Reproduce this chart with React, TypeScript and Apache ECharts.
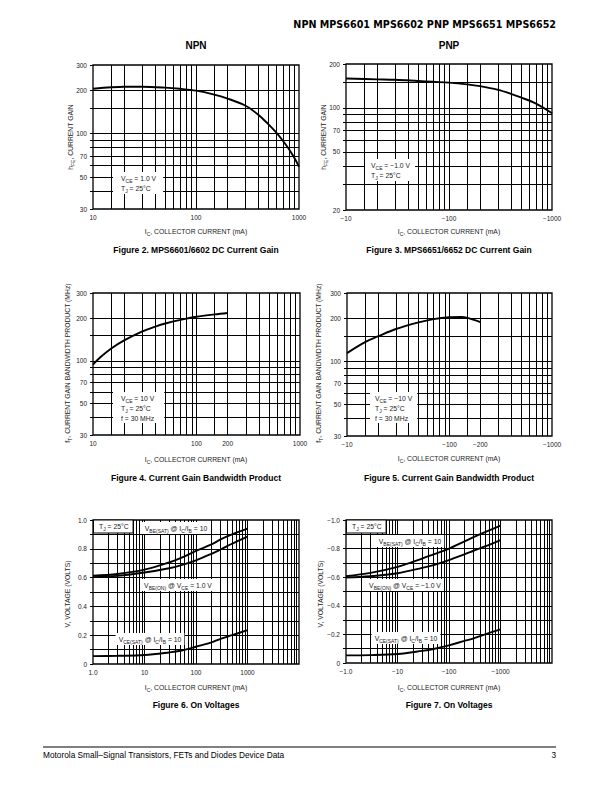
import React, { useEffect, useRef } from 'react';
import * as echarts from 'echarts';

const FONT = '"Liberation Sans", Arial, Helvetica, sans-serif';

// ---------- data ----------
// Figure 2: NPN DC current gain (VCE = 1.0 V)
const npnGainIc = [10, 15, 20, 30, 50, 70, 100, 150, 200, 300, 400, 500, 600, 700, 800, 900, 1000];
const npnGainHfe = [205, 210, 212, 212, 209, 205, 199, 187, 176, 157, 136, 117, 102, 89, 78, 68, 59];
// Figure 3: PNP DC current gain (VCE = -1.0 V), |IC|
const pnpGainIc = [10, 20, 30, 50, 70, 100, 150, 200, 300, 400, 500, 700, 1000];
const pnpGainHfe = [159, 157, 156, 153, 151, 149, 145, 141, 133, 125, 118, 107, 92];
// Figure 4: NPN fT
const npnFtIc = [10, 12, 15, 20, 30, 40, 50, 70, 100, 150, 200];
const npnFt = [94, 107, 122, 139, 161, 174, 183, 194, 204, 212, 217];
// Figure 5: PNP fT, |IC|
const pnpFtIc = [10, 15, 20, 30, 50, 70, 100, 130, 150, 200];
const pnpFt = [114, 136, 149, 168, 187, 197, 203, 204, 201, 188];
// Figure 6: NPN on voltages
const npnVIc = [1, 3, 10, 30, 50, 100, 200, 300, 500, 1000];
const npnVbeSat = [0.613, 0.625, 0.655, 0.705, 0.735, 0.785, 0.83, 0.865, 0.9, 0.94];
const npnVbeOn = [0.603, 0.612, 0.635, 0.665, 0.685, 0.72, 0.765, 0.795, 0.835, 0.885];
const npnVceSat = [0.055, 0.057, 0.062, 0.08, 0.092, 0.12, 0.15, 0.175, 0.2, 0.235];
// Figure 7: PNP on voltages, magnitudes
const pnpVIc = [1, 3, 10, 30, 50, 100, 200, 300, 500, 1000];
const pnpVbeSat = [0.607, 0.63, 0.672, 0.73, 0.76, 0.8, 0.85, 0.88, 0.915, 0.96];
const pnpVbeOn = [0.598, 0.607, 0.628, 0.665, 0.685, 0.72, 0.76, 0.785, 0.815, 0.86];
const pnpVceSat = [0.053, 0.055, 0.063, 0.085, 0.098, 0.123, 0.155, 0.172, 0.2, 0.235];

// ---------- tick labels ----------
const gainXLabels = [10, 100, 1000];
const npnGainYLabels = [30, 50, 70, 100, 200, 300];
const pnpGainYLabels = [20, 50, 70, 100, 200];
const ftXLabels = [10, 100, 200, 1000];
const ftYLabels = [30, 50, 70, 100, 200, 300];
const vXLabels = [1, 10, 100, 1000];
const vYLabels = [0, 0.2, 0.4, 0.6, 0.8, 1.0];

// ---------- grid line positions ----------
const gridX10to1000 = [15, 20, 30, 40, 50, 60, 70, 80, 90, 100, 150, 200, 300, 400, 500, 600, 700, 800, 900];
const gridY30to300 = [40, 50, 60, 70, 80, 90, 100, 150, 200];
const gridY20to200 = [30, 40, 50, 60, 70, 80, 90, 100, 150];
const gridX1to10000 = [2, 3, 4, 5, 6, 7, 8, 9, 10, 20, 30, 40, 50, 60, 70, 80, 90, 100, 200, 300, 400, 500, 600, 700, 800, 900, 1000, 2000, 3000, 4000, 5000, 6000, 7000, 8000, 9000];
const gridYVolt = [0.1, 0.2, 0.3, 0.4, 0.5, 0.6, 0.7, 0.8, 0.9];

const grids = [
  { left: 93, top: 65, width: 206, height: 144 },
  { left: 346, top: 64, width: 206, height: 146 },
  { left: 93, top: 293, width: 207, height: 142 },
  { left: 347, top: 293, width: 205, height: 143 },
  { left: 93, top: 520, width: 206, height: 144 },
  { left: 346, top: 520, width: 206, height: 143 },
];

const MINUS = '\u2212';
const labelStyle = { fontSize: 6.5, color: '#222', fontFamily: FONT };

function logAxis(gi: number, min: number, max: number, labels: number[], ticks: number[], neg: boolean, isY: boolean, fmt?: (v: number) => string) {
  return {
    type: 'log',
    logBase: 10,
    gridIndex: gi,
    min,
    max,
    axisLine: { show: false },
    splitLine: { show: false },
    minorTick: { show: false },
    minorSplitLine: { show: false },
    axisTick: {
      show: isY,
      customValues: [min, ...ticks, max],
      length: 3,
      inside: false,
      lineStyle: { color: '#000', width: 1 },
    },
    axisLabel: {
      ...labelStyle,
      customValues: labels,
      margin: isY ? 6 : 5,
      showMinLabel: true,
      showMaxLabel: true,
      formatter: (v: number) => (fmt ? fmt(v) : (neg ? MINUS : '') + String(Math.round(v))),
    },
  };
}

function voltAxis(gi: number, neg: boolean) {
  return {
    type: 'value',
    gridIndex: gi,
    min: 0,
    max: 1,
    interval: 0.2,
    axisLine: { show: false },
    splitLine: { show: false },
    axisTick: {
      show: true,
      customValues: [0, ...gridYVolt, 1],
      length: 3,
      lineStyle: { color: '#000', width: 1 },
    },
    axisLabel: {
      ...labelStyle,
      customValues: vYLabels,
      margin: 6,
      formatter: (v: number) => (v === 0 ? '0' : (neg ? MINUS : '') + v.toFixed(1)),
    },
  };
}

function gridMarks(xv: number[], yv: number[]) {
  return {
    silent: true,
    symbol: ['none', 'none'],
    z: 1,
    label: { show: false },
    emphasis: { disabled: true },
    lineStyle: { color: '#000', width: 1, type: 'solid', opacity: 1 },
    data: [...xv.map((v) => ({ xAxis: v })), ...yv.map((v) => ({ yAxis: v }))],
  };
}

function curve(gi: number, xs: number[], ys: number[], marks?: any) {
  const s: any = {
    type: 'line',
    xAxisIndex: gi,
    yAxisIndex: gi,
    data: xs.map((x, i) => [x, ys[i]]),
    showSymbol: false,
    symbol: 'none',
    smooth: 0.35,
    z: 60,
    silent: true,
    lineStyle: { color: '#000', width: 1.9 },
  };
  if (marks) s.markLine = marks;
  return s;
}

const baseRich = {
  n: { fontSize: 6.8, fontFamily: FONT, fill: '#222', lineHeight: 10 },
  s: { fontSize: 5, fontFamily: FONT, fill: '#222', lineHeight: 6, verticalAlign: 'bottom' },
};

function txt(x: number, y: number, text: string, opts: any = {}) {
  return {
    type: 'text',
    x,
    y,
    z: 50,
    silent: true,
    rotation: opts.rotation || 0,
    style: {
      text,
      rich: opts.rich || baseRich,
      fill: '#222',
      fontFamily: FONT,
      fontSize: opts.fontSize || 6.8,
      fontWeight: opts.fontWeight || 'normal',
      align: opts.align || 'center',
      verticalAlign: opts.verticalAlign || 'middle',
      backgroundColor: opts.bg,
      padding: opts.padding,
      borderColor: opts.borderColor,
      borderWidth: opts.borderWidth,
      lineHeight: opts.lineHeight,
    },
  };
}

function plain(x: number, y: number, text: string, size: number, weight: string, align = 'center', family = FONT) {
  return {
    type: 'text',
    x,
    y,
    z: 50,
    silent: true,
    style: { text, fill: '#000', fontFamily: family, fontSize: size, fontWeight: weight, align, verticalAlign: 'middle' },
  };
}

const legendRich = {
  n: { fontSize: 6.8, fontFamily: FONT, fill: '#222', lineHeight: 10 },
  s: { fontSize: 5, fontFamily: FONT, fill: '#222', lineHeight: 6, verticalAlign: 'bottom' },
};

const icTitle = '{n|I}{s|C}{n|, COLLECTOR CURRENT (mA)}';

export default function App() {
  const ref = useRef<HTMLDivElement>(null);
  useEffect(() => {
    if (!ref.current) return;
    const chart = echarts.init(ref.current, undefined, { renderer: 'svg' });
    const option: any = {
      animation: false,
      backgroundColor: '#fff',
      grid: grids.map((g) => ({ ...g, show: true, borderColor: '#000', borderWidth: 1.3, containLabel: false })),
      xAxis: [
        logAxis(0, 10, 1000, gainXLabels, gridX10to1000, false, false),
        logAxis(1, 10, 1000, gainXLabels, gridX10to1000, true, false),
        logAxis(2, 10, 1000, ftXLabels, gridX10to1000, false, false),
        logAxis(3, 10, 1000, ftXLabels, gridX10to1000, true, false),
        logAxis(4, 1, 10000, vXLabels, gridX1to10000, false, false, (v) => (v === 1 ? '1.0' : String(Math.round(v)))),
        logAxis(5, 1, 10000, vXLabels, gridX1to10000, true, false, (v) => MINUS + (v === 1 ? '1.0' : String(Math.round(v)))),
      ],
      yAxis: [
        logAxis(0, 30, 300, npnGainYLabels, gridY30to300, false, true),
        logAxis(1, 20, 200, pnpGainYLabels, gridY20to200, false, true),
        logAxis(2, 30, 300, ftYLabels, gridY30to300, false, true),
        logAxis(3, 30, 300, ftYLabels, gridY30to300, false, true),
        voltAxis(4, false),
        voltAxis(5, true),
      ],
      series: [
        curve(0, npnGainIc, npnGainHfe, gridMarks(gridX10to1000, gridY30to300)),
        curve(1, pnpGainIc, pnpGainHfe, gridMarks(gridX10to1000, gridY20to200)),
        curve(2, npnFtIc, npnFt, gridMarks(gridX10to1000, gridY30to300)),
        curve(3, pnpFtIc, pnpFt, gridMarks(gridX10to1000, gridY30to300)),
        curve(4, npnVIc, npnVbeSat, gridMarks(gridX1to10000, gridYVolt)),
        curve(4, npnVIc, npnVbeOn),
        curve(4, npnVIc, npnVceSat),
        curve(5, pnpVIc, pnpVbeSat, gridMarks(gridX1to10000, gridYVolt)),
        curve(5, pnpVIc, pnpVbeOn),
        curve(5, pnpVIc, pnpVceSat),
      ],
      graphic: [
        // header
        plain(556, 24, 'NPN MPS6601 MPS6602 PNP MPS6651 MPS6652', 9.6, '900', 'right', '"DejaVu Sans", ' + FONT),
        plain(196, 45, 'NPN', 10, 'bold'),
        plain(449, 45, 'PNP', 10, 'bold'),
        // captions
        plain(196, 250, 'Figure 2. MPS6601/6602 DC Current Gain', 8.5, 'bold'),
        plain(449, 250, 'Figure 3. MPS6651/6652 DC Current Gain', 8.5, 'bold'),
        plain(196, 478, 'Figure 4. Current Gain Bandwidth Product', 8.5, 'bold'),
        plain(449, 478, 'Figure 5. Current Gain Bandwidth Product', 8.5, 'bold'),
        plain(196, 705, 'Figure 6. On Voltages', 8.5, 'bold'),
        plain(449, 705, 'Figure 7. On Voltages', 8.5, 'bold'),
        // x-axis titles
        txt(196, 231, icTitle),
        txt(449, 231, icTitle),
        txt(196, 459, icTitle),
        txt(449, 458, icTitle),
        txt(196, 687, icTitle),
        txt(449, 687, icTitle),
        // y-axis titles
        txt(70, 137, '{n|h}{s|FE}{n|, CURRENT GAIN}', { rotation: Math.PI / 2 }),
        txt(323, 137, '{n|h}{s|FE}{n|, CURRENT GAIN}', { rotation: Math.PI / 2 }),
        txt(67, 363, '{n|f}{s|T}{n|, CURRENT GAIN BANDWIDTH PRODUCT (MHz)}', { rotation: Math.PI / 2 }),
        txt(318, 363, '{n|f}{s|T}{n|, CURRENT GAIN BANDWIDTH PRODUCT (MHz)}', { rotation: Math.PI / 2 }),
        txt(67, 594, '{n|V, VOLTAGE (VOLTS)}', { rotation: Math.PI / 2 }),
        txt(320, 594, '{n|V, VOLTAGE (VOLTS)}', { rotation: Math.PI / 2 }),
        // legends
        txt(113, 172, '{n|V}{s|CE}{n| = 1.0 V}\n{n|T}{s|J}{n| = 25°C}', { align: 'left', verticalAlign: 'top', bg: '#fff', padding: [1, 7, 1, 8], rich: legendRich }),
        txt(365, 159, '{n|V}{s|CE}{n| = ' + MINUS + '1.0 V}\n{n|T}{s|J}{n| = 25°C}', { align: 'left', verticalAlign: 'top', bg: '#fff', padding: [1, 5, 1, 6], rich: legendRich }),
        txt(113, 392, '{n|V}{s|CE}{n| = 10 V}\n{n|T}{s|J}{n| = 25°C}\n{n|f = 30 MHz}', { align: 'left', verticalAlign: 'top', bg: '#fff', padding: [1, 10, 0, 8], rich: legendRich }),
        txt(370, 392, '{n|V}{s|CE}{n| = ' + MINUS + '10 V}\n{n|T}{s|J}{n| = 25°C}\n{n|f = 30 MHz}', { align: 'left', verticalAlign: 'top', bg: '#fff', padding: [1, 5, 0, 5], rich: legendRich }),
        // on-voltage labels, NPN
        txt(94, 520.6, '{n|T}{s|J}{n| = 25°C}', { align: 'left', verticalAlign: 'top', bg: '#fff', padding: [1, 4, 1, 5], borderColor: '#000', borderWidth: 0.9 }),
        txt(176, 528, '{n|V}{s|BE(SAT)}{n| @ I}{s|C}{n|/I}{s|B}{n| = 10}', { bg: '#fff', padding: [1, 3, 1, 3] }),
        txt(178, 585, '{n|V}{s|BE(ON)}{n| @ V}{s|CE}{n| = 1.0 V}', { bg: '#fff', padding: [1, 3, 1, 3] }),
        txt(150, 639, '{n|V}{s|CE(SAT)}{n| @ I}{s|C}{n|/I}{s|B}{n| = 10}', { bg: '#fff', padding: [1, 3, 1, 3] }),
        // on-voltage labels, PNP
        txt(347, 520.6, '{n|T}{s|J}{n| = 25°C}', { align: 'left', verticalAlign: 'top', bg: '#fff', padding: [1, 4, 1, 5], borderColor: '#000', borderWidth: 0.9 }),
        txt(410, 541, '{n|V}{s|BE(SAT)}{n| @ I}{s|C}{n|/I}{s|B}{n| = 10}', { bg: '#fff', padding: [1, 3, 1, 3] }),
        txt(405, 585, '{n|V}{s|BE(ON)}{n| @ V}{s|CE}{n| = ' + MINUS + '1.0 V}', { bg: '#fff', padding: [1, 3, 1, 3] }),
        txt(406, 638, '{n|V}{s|CE(SAT)}{n| @ I}{s|C}{n|/I}{s|B}{n| = 10}', { bg: '#fff', padding: [1, 3, 1, 3] }),
        // footer
        { type: 'line', z: 50, silent: true, shape: { x1: 43, y1: 747, x2: 556, y2: 747 }, style: { stroke: '#000', lineWidth: 1 } },
        plain(43, 755, 'Motorola Small\u2013Signal Transistors, FETs and Diodes Device Data', 8.3, 'normal', 'left'),
        plain(556, 755, '3', 8.3, 'normal', 'right'),
      ],
    };
    chart.setOption(option);
    return () => chart.dispose();
  }, []);
  return <div ref={ref} style={{ position: 'absolute', left: 0, top: 0, width: 612, height: 792, background: '#fff' }} />;
}
